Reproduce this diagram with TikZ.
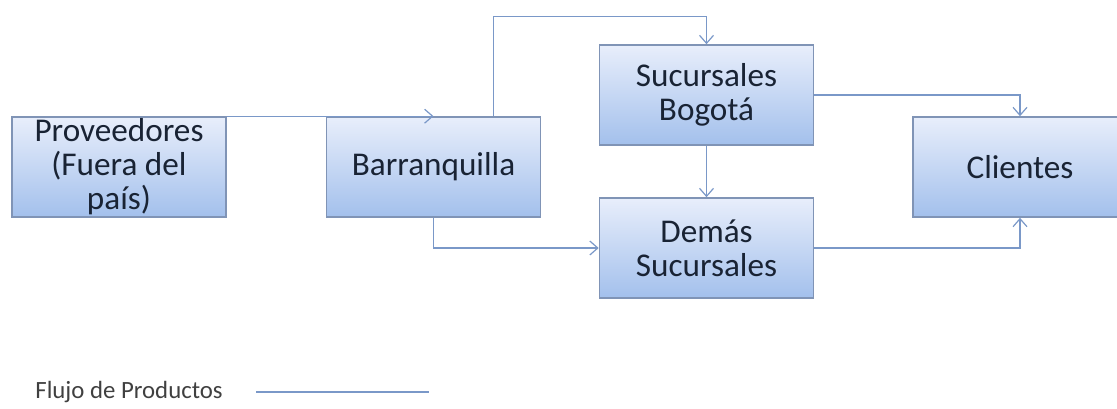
\documentclass[tikz,border=0pt]{standalone}
\usepackage{fontspec}
\setmainfont{Carlito}
\usetikzlibrary{arrows.meta}
\definecolor{boxtop}{RGB}{232,238,251}
\definecolor{boxbot}{RGB}{163,192,236}
\definecolor{boxline}{RGB}{128,148,182}
\definecolor{flowcol}{RGB}{122,152,200}
\definecolor{textdark}{RGB}{25,35,52}
\tikzset{
  place/.style={draw=boxline, line width=0.8pt, top color=boxtop, bottom color=boxbot,
    minimum width=107pt, minimum height=50pt, inner ysep=0pt, align=center, text=textdark,
    font=\fontsize{16.6}{17}\selectfont},
  flow/.style={draw=flowcol, line width=0.6pt, -{Straight Barb[length=4pt,width=7pt]}}
}
\begin{document}
\begin{tikzpicture}[x=0.5pt,y=-0.5pt]
\useasboundingbox (0,0) rectangle (1117,408);
\node[place] (prov) at (119,167) {Proveedores\\(Fuera del\\país)};
\node[place] (barr) at (433.5,167) {Barranquilla};
\node[place] (bog) at (706.5,95) {Sucursales\\Bogotá};
\node[place] (dem) at (706.5,248) {Demás\\Sucursales};
\node[place] (cli) at (1020,167) {Clientes};
\draw[flow] (prov.north east) -- (barr.north);
\draw[flow] ([xshift=30pt]barr.north) |- ([yshift=14pt]bog.north) -- (bog.north);
\draw[flow] (bog) -- (dem);
\draw[flow] (barr.south) |- (dem.west);
\draw[flow] (bog.east) -| (cli.north);
\draw[flow] (dem.east) -| (cli.south);
% leyenda
\node[anchor=west, inner sep=0pt, text=black!75, font=\fontsize{12.4}{14}\selectfont] (leg) at (35,392) {Flujo de Productos};
\draw[flowcol, line width=0.6pt] ([xshift=16.5pt]leg.east) -- ++(173,0);
\end{tikzpicture}
\end{document}
